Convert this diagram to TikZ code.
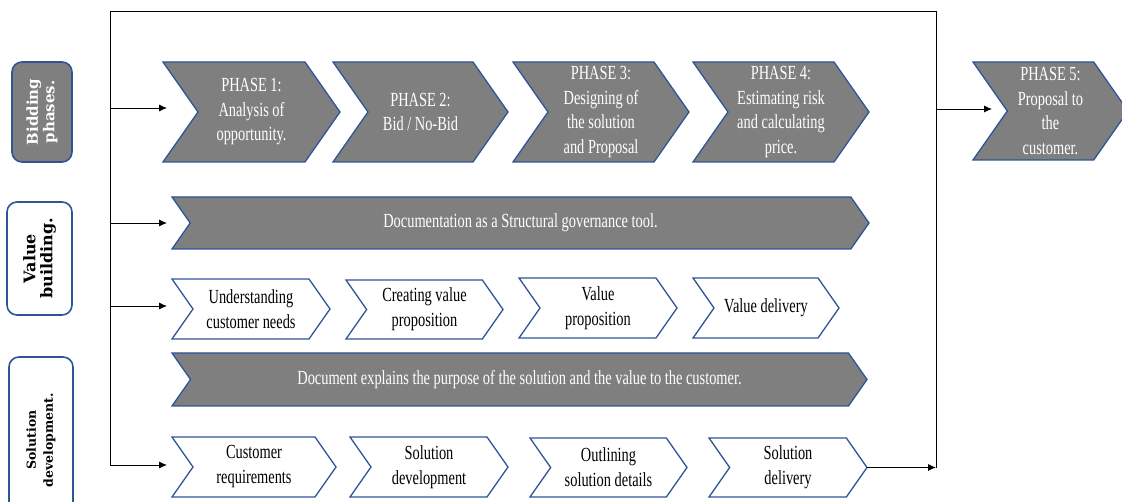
\documentclass[tikz,border=0pt]{standalone}
\usepackage{fontspec}
\setmainfont{Liberation Serif}
\newfontfamily\chevfont[FakeStretch=0.72]{Liberation Serif}
\newfontfamily\labfont{DejaVu Serif}[BoldFont={DejaVu Serif Bold}]
\usetikzlibrary{calc,arrows.meta}

\definecolor{chevblue}{HTML}{2F5597}
\definecolor{chevgray}{HTML}{7F7F7F}

\tikzset{
  darkchev/.style={fill=chevgray, draw=chevblue, line width=1.3pt},
  lightchev/.style={fill=white, draw=chevblue, line width=1.3pt},
  darktext/.style={text=white, font=\chevfont\fontsize{20}{24.5}\selectfont, align=center, inner sep=0pt},
  lighttext/.style={text=black, font=\chevfont\fontsize{20}{25}\selectfont, align=center, inner sep=0pt},
  labelbox/.style={rounded corners=10pt, draw=chevblue, line width=1.6pt, rotate=90,
    align=center, inner sep=0pt},
  labbig/.style={font=\labfont\bfseries\fontsize{15}{16.5}\selectfont},
  labmid/.style={font=\labfont\bfseries\fontsize{16}{17}\selectfont},
  labsmall/.style={font=\labfont\bfseries\fontsize{12.5}{17}\selectfont},
  framel/.style={line width=0.8pt},
  arr/.style={line width=0.8pt, -{Latex[length=8pt,width=7pt]}},
}

% chevron: name, shape style, text style, left x, tip x, top y, bottom y, text
\newcommand\chev[8]{%
  \path[#2] (#4,#6) -- ({#5-0.35*(#7-#6)},#6) -- (#5,{(#6+#7)/2})
    -- ({#5-0.35*(#7-#6)},#7) -- (#4,#7) -- ({#4+0.35*(#7-#6)},{(#6+#7)/2}) -- cycle;
  \node[#3] (#1) at ({(#4+#5)/2},{(#6+#7)/2}) {#8};
  \coordinate (#1-w) at (#4,{(#6+#7)/2});
  \coordinate (#1-e) at (#5,{(#6+#7)/2});
}

\begin{document}
\begin{tikzpicture}[x=1pt,y=-1pt]
\useasboundingbox (0,0) rectangle (1122,502);

% row labels
\node[labelbox, labbig, fill=chevgray, text=white, minimum width=100pt, minimum height=60pt] (lbid) at (42,112) {Bidding\\phases.};
\node[labelbox, labmid, fill=white, text=black, minimum width=113pt, minimum height=65pt] (lval) at (39.5,258.5) {Value\\building.};
\node[labelbox, labsmall, fill=white, text=black, minimum width=166pt, minimum height=64pt] (lsol) at (41,440) {Solution\\development.};

% bidding phases
\chev{p1}{darkchev}{darktext}{163}{340}{62}{162}{PHASE 1:\\Analysis of\\opportunity.}
\chev{p2}{darkchev}{darktext}{333}{508}{62}{162}{PHASE 2:\\Bid / No-Bid}
\chev{p3}{darkchev}{darktext}{513}{689}{62}{162}{PHASE 3:\\Designing of\\the solution\\and Proposal}
\chev{p4}{darkchev}{darktext}{693}{869}{62}{162}{PHASE 4:\\Estimating risk\\and calculating\\price.}
\chev{p5}{darkchev}{darktext}{973}{1128}{62}{160}{PHASE 5:\\Proposal to\\the\\customer.}

% value building
\chev{doc1}{darkchev}{darktext}{172}{869}{197}{249}{Documentation as a Structural governance tool.}
\chev{v1}{lightchev}{lighttext}{172}{330}{279}{339}{Understanding\\customer needs}
\chev{v2}{lightchev}{lighttext}{346}{503}{280}{339}{Creating value\\proposition}
\chev{v3}{lightchev}{lighttext}{519}{677}{278}{338}{Value\\proposition}
\chev{v4}{lightchev}{lighttext}{693}{839}{278}{338}{Value delivery}

% solution development
\chev{doc2}{darkchev}{darktext}{172}{867}{353}{406}{Document explains the purpose of the solution and the value to the customer.}
\chev{s1}{lightchev}{lighttext}{172}{336}{437}{497}{Customer\\requirements}
\chev{s2}{lightchev}{lighttext}{350}{508}{437}{497}{Solution\\development}
\chev{s3}{lightchev}{lighttext}{530}{687}{438}{497}{Outlining\\solution details}
\chev{s4}{lightchev}{lighttext}{709}{867}{438}{497}{Solution\\delivery}

% frame connecting the streams
\coordinate (ftl) at (110,11);
\coordinate (ftr) at (936,11);
\coordinate (fbl) at (110,465);
\draw[framel] (fbl) -- (ftl) -- (ftr) -- (ftr |- s4-e);

% connectors into the streams
\draw[arr] ($(ftl |- p1-w)+(0,-4)$) -- ($(p1-w)+(4,-4)$);
\draw[arr] (ftl |- doc1-w) -- ($(doc1-w)+(-5,0)$);
\draw[arr] ($(ftl |- v1-w)+(0,-3)$) -- ($(v1-w)+(-5,-3)$);
\draw[arr] (fbl) -- ($(s1-w |- fbl)+(-5,0)$);
\draw[arr] (s4-e) -- (ftr |- s4-e);
\draw[arr] ($(ftr |- p5-w)+(0,-2)$) -- ($(p5-w)+(19,-2)$);
\end{tikzpicture}
\end{document}
